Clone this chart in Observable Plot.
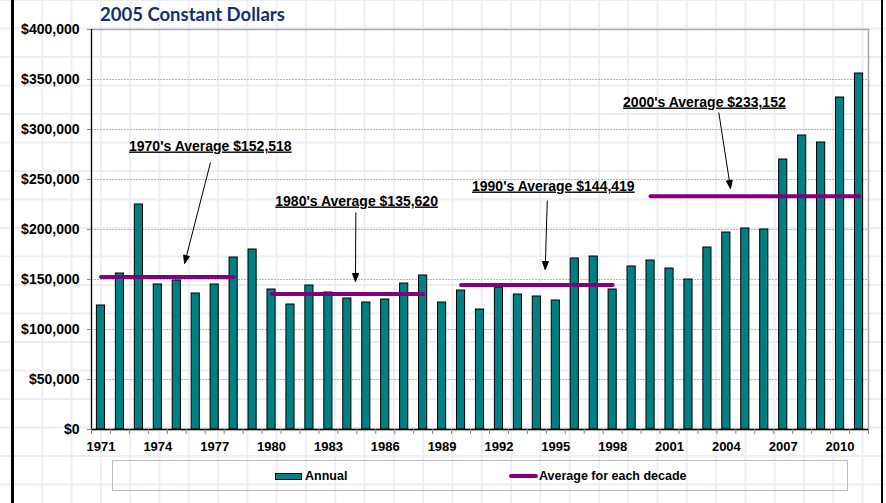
<!DOCTYPE html>
<html>
<head>
<meta charset="utf-8">
<script src="https://cdn.jsdelivr.net/npm/d3@7"></script>
<script src="https://cdn.jsdelivr.net/npm/@observablehq/plot@0.6"></script>
<style>
  html, body { margin: 0; padding: 0; }
  body {
    width: 886px; height: 503px; overflow: hidden; position: relative;
    background-color: #fff;
    background-image:
      linear-gradient(#ededf6 1.5px, transparent 1.5px),
      linear-gradient(90deg, #ededf6 1.5px, transparent 1.5px);
    background-size: 29.3px 28.5px;
    background-position: 12px -1px;
    font-family: "Liberation Sans", Arial, sans-serif;
  }
  #title {
    position: absolute; left: 100px; top: 5px;
    font-family: Lato, "Open Sans", sans-serif; font-weight: 700;
    font-size: 18.5px; line-height: 18px; color: #12306c; white-space: nowrap;
  }
  #chart { position: absolute; left: 0; top: 0; }
  .border { position: absolute; top: 0; height: 503px; width: 2.5px; background: #000; }
  #legend {
    position: absolute; left: 112px; top: 460px; width: 736px; height: 31px;
    border: 1px solid #bdbdbd; box-sizing: border-box;
    font-weight: bold; font-size: 12.5px;
  }
  .lg-item { position: absolute; top: 8px; display: flex; align-items: center; white-space: nowrap; }
  .sw-bar { width: 25px; height: 5px; background: #008080; border: 1px solid #000; margin-right: 3px; }
  .sw-line { width: 29px; height: 4px; background: #800080; border-radius: 2px; margin-right: 1px; }
  g[aria-description="annotation"] text { text-decoration: underline; }
</style>
</head>
<body>
<div class="border" style="left:11px"></div>
<div class="border" style="left:880.5px"></div>
<div id="chart"></div>
<div id="title">2005 Constant Dollars</div>
<div id="legend">
  <div class="lg-item" style="left:162px"><div class="sw-bar"></div>Annual</div>
  <div class="lg-item" style="left:396px"><div class="sw-line"></div>Average for each decade</div>
</div>
<script>
// ---- data ----
const years = [1971,1972,1973,1974,1975,1976,1977,1978,1979,1980,
  1981,1982,1983,1984,1985,1986,1987,1988,1989,1990,
  1991,1992,1993,1994,1995,1996,1997,1998,1999,2000,
  2001,2002,2003,2004,2005,2006,2007,2008,2009,2010,2011];
const annual = [124000,156000,225000,145000,149000,136000,145000,172000,180000,140000,
  125000,144000,137000,131000,127000,130000,146000,154000,127000,139000,
  120000,142000,135000,133000,129000,171000,173000,140000,163000,169000,
  161000,150000,182000,197000,201000,200000,270000,294000,287000,332000,356000];

const decadeLabels = ["1970's", "1980's", "1990's", "2000's"];
const decadeAverages = [152518, 135620, 144419, 233152];
const decadeStart = [1971, 1980, 1990, 2000];
const decadeEnd = [1978, 1988, 1998, 2011];

// annotation anchors (in data units: year, dollars)
const noteX = [1976.77, 1984.49, 1994.87, 2002.84];
const noteY = [279000, 224000, 239000, 323000];
const arrowFromX = [1976.78, 1984.45, 1994.55, 2003.60];
const arrowFromY = [267000, 217000, 229000, 317000];
const arrowToX = [1975.41, 1984.43, 1994.44, 2004.22];
const arrowToY = [166000, 148000, 160000, 241000];

const yTicks = [0, 50000, 100000, 150000, 200000, 250000, 300000, 350000, 400000];
const gridTicks = [50000, 100000, 150000, 200000, 250000, 300000, 350000];
const xLabelTicks = [1971,1974,1977,1980,1983,1986,1989,1992,1995,1998,2001,2004,2007,2010];

// ---- derived tables ----
const bars = years.map((y, i) => ({year: y, value: annual[i]}));
const avgSegs = decadeLabels.flatMap((d, i) => [
  {decade: d, year: decadeStart[i], value: decadeAverages[i]},
  {decade: d, year: decadeEnd[i], value: decadeAverages[i]}
]);
const notes = decadeLabels.map((d, i) => ({
  text: `${d} Average $${d3.format(",")(decadeAverages[i])}`,
  x: noteX[i], y: noteY[i],
  x1: arrowFromX[i], y1: arrowFromY[i], x2: arrowToX[i], y2: arrowToY[i]
}));
const bounds = years.map(y => y - 0.5).concat([years[years.length - 1] + 0.5]);

const headMarker = (color) => {
  const m = d3.create("svg:marker")
    .attr("viewBox", "-9 -5 10 10")
    .attr("markerWidth", 10).attr("markerHeight", 10)
    .attr("markerUnits", "userSpaceOnUse")
    .attr("refX", 0).attr("refY", 0)
    .attr("orient", "auto");
  m.append("path").attr("d", "M-8,-3L0,0L-8,3Z").attr("fill", "#000");
  return m.node();
};

const half = 0.215;
const plot = Plot.plot({
  width: 886,
  height: 460,
  marginTop: 29,
  marginBottom: 31,
  marginLeft: 91,
  marginRight: 18,
  style: {background: "transparent", fontFamily: "'Liberation Sans', Arial, sans-serif", fontWeight: "bold", color: "#000"},
  x: {domain: [1970.5, 2011.5], nice: false},
  y: {domain: [0, 400000], nice: false},
  marks: [
    Plot.ruleY(gridTicks, {stroke: "#b8b8b8", strokeWidth: 1, strokeDasharray: "2,1"}),
    Plot.frame({stroke: "#a8a8a8", strokeWidth: 1.5}),
    Plot.rectY(bars, {x1: d => d.year - half, x2: d => d.year + half, y1: 0, y2: "value",
      fill: "#008080", stroke: "#000", strokeWidth: 1}),
    Plot.line(avgSegs, {x: "year", y: "value", z: "decade", stroke: "#800080", strokeWidth: 4, strokeLinecap: "round"}),
    Plot.link(notes, {x1: "x1", y1: "y1", x2: "x2", y2: "y2", stroke: "#000", strokeWidth: 1, markerEnd: headMarker}),
    Plot.text(notes, {x: "x", y: "y", text: "text", textAnchor: "middle", lineAnchor: "bottom",
      fontSize: 14, fontWeight: "bold", fill: "#000", ariaDescription: "annotation"}),
    Plot.ruleX([1970.5], {stroke: "#000", strokeWidth: 1.2}),
    Plot.ruleY([0], {stroke: "#000", strokeWidth: 1.5}),
    Plot.axisY({ticks: yTicks, tickFormat: d => "$" + d3.format(",")(d), tickSize: 4, tickPadding: 8,
      stroke: "#888", fill: "#000", fontSize: 14, fontWeight: "bold", label: null}),
    Plot.axisX({ticks: bounds, tickSize: 5, tickFormat: () => "", stroke: "#888", label: null}),
    Plot.axisX({ticks: xLabelTicks, tickSize: 0, tickPadding: 12, tickFormat: d => String(d),
      fill: "#000", fontSize: 13, fontWeight: "bold", label: null})
  ]
});
document.getElementById("chart").appendChild(plot);
</script>
</body>
</html>
